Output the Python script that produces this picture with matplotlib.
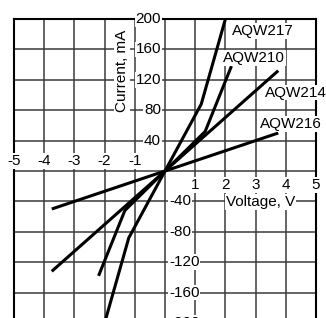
import numpy as np
import matplotlib
matplotlib.use("Agg")
import matplotlib.pyplot as plt

plt.rcParams['font.family'] = ['Liberation Sans', 'DejaVu Sans']

# ==============================
# Data
# ==============================
v_217 = [-2.0, -1.2, 0, 1.2, 2.0]
i_217 = [-200, -88, 0, 88, 200]

v_210 = [-2.2, -1.33, 0, 1.33, 2.2]
i_210 = [-138, -52, 0, 52, 138]

v_214 = [-3.75, 0, 3.75]
i_214 = [-132, 0, 132]

v_216 = [-3.75, 0, 3.75]
i_216 = [-50, 0, 50]

names = ["AQW217", "AQW210", "AQW214", "AQW216"]
name_pos = [(2.22, 184), (1.92, 149), (3.31, 103), (3.15, 62)]

x_ticks = [-5, -4, -3, -2, -1, 1, 2, 3, 4, 5]
y_ticks = [-200, -160, -120, -80, -40, 40, 80, 120, 160, 200]

# ==============================
# Figure
# ==============================
fig = plt.figure(figsize=(3.26, 3.18), dpi=100)
ax = fig.add_axes([14 / 326, 1 - 323 / 318, 302 / 326, 304 / 318])
ax.set_xlim(-5, 5)
ax.set_ylim(-200, 200)

ax.set_xticks(np.arange(-5, 6, 1))
ax.set_yticks(np.arange(-200, 201, 40))
ax.grid(True, color="#3a3a3a", linewidth=1.1, zorder=1)
ax.tick_params(length=0, labelbottom=False, labelleft=False)
for side in ["top", "left", "right", "bottom"]:
    ax.spines[side].set_linewidth(1.5)
    ax.spines[side].set_color("black")

lw = 2.2
for v, i in [(v_217, i_217), (v_210, i_210), (v_214, i_214), (v_216, i_216)]:
    ax.plot(v, i, color="black", linewidth=lw, solid_capstyle="butt", zorder=2)

box = dict(facecolor="white", edgecolor="none", pad=0.6)
fs = 11

# tick labels sitting on the axes lines
for x in x_ticks:
    if x < 0:
        ax.text(x, 4, str(x), ha="center", va="bottom", fontsize=fs, bbox=box, zorder=3)
    else:
        ax.text(x, -9, str(x), ha="center", va="top", fontsize=fs, bbox=box, zorder=3)

for y in y_ticks:
    if y > 0:
        ax.text(-0.13, y, str(y), ha="right", va="center", fontsize=fs, bbox=box, zorder=3)
    else:
        ax.text(0.13, y, str(y), ha="left", va="center", fontsize=fs, bbox=box, zorder=3)

ax.text(-1.42, 132, "Current, mA", rotation=90, ha="center", va="center",
        fontsize=fs, bbox=box, zorder=3)
ax.text(3.15, -41, "Voltage, V", ha="center", va="center", fontsize=fs, bbox=box, zorder=3)

for name, (x, y) in zip(names, name_pos):
    ax.text(x, y, name, ha="left", va="center", fontsize=fs, bbox=box, zorder=3)

fig.savefig("out.png", dpi=100)
